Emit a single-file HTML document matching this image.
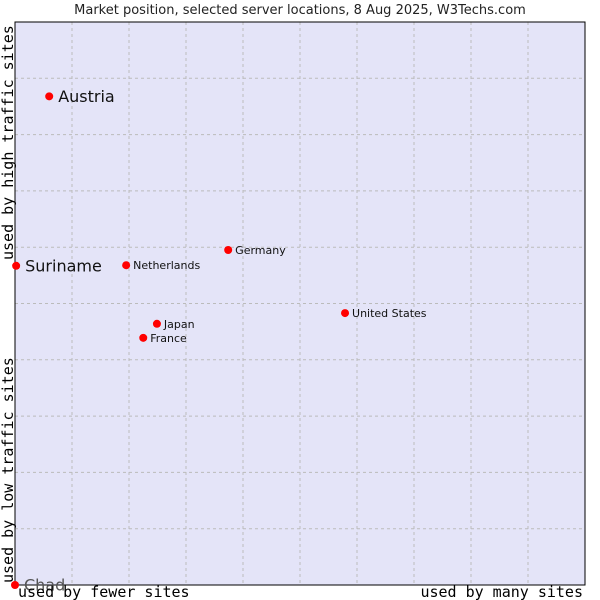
<!DOCTYPE html>
<html><head><meta charset="utf-8"><style>
html,body{margin:0;padding:0;background:#fff;width:600px;height:600px;overflow:hidden}
svg text{font-family:"DejaVu Sans","Liberation Sans",sans-serif}
.mono{font-family:"DejaVu Sans Mono","Liberation Mono",monospace}
</style></head><body>
<svg id="chart" width="600" height="600" xmlns="http://www.w3.org/2000/svg">
<text x="300" y="14" text-anchor="middle" font-size="13" fill="#222">Market position, selected server locations, 8 Aug 2025, W3Techs.com</text>
<rect x="15" y="22" width="570" height="563" fill="#e4e4f8"/>
<g id="grid"></g>
<rect x="15" y="22" width="570" height="563" fill="none" stroke="#000" stroke-width="1"/>
<g id="points"></g>
<text class="mono" transform="translate(13,260) rotate(-90)" font-size="15" fill="#000">used by high traffic sites</text>
<text class="mono" transform="translate(13,583) rotate(-90)" font-size="15" fill="#000">used by low traffic sites</text>
<text class="mono" x="18" y="597" font-size="15" fill="#000">used by fewer sites</text>
<text class="mono" x="583" y="597" text-anchor="end" font-size="15" fill="#000">used by many sites</text>
</svg>
<script>
const names = ["Austria","Suriname","Netherlands","Germany","United States","Japan","France","Chad"];
const xValues = [6.0,0.2,19.5,37.4,57.9,24.9,22.5,0];
const yValues = [86.8,56.7,56.8,59.5,48.3,46.4,43.9,0];
const bigLabel = [true,true,false,false,false,false,false,true];
const L=15,T=22,W=570,H=563;
const sx=v=>L+v/100*W, sy=v=>T+H-v/100*H;
const NS="http://www.w3.org/2000/svg";
const grid=document.getElementById('grid');
for(let i=1;i<10;i++){
  const a=document.createElementNS(NS,'line');
  
  
  a.setAttribute('x1',sx(i*10));a.setAttribute('x2',sx(i*10));a.setAttribute('y1',T);a.setAttribute('y2',T+H);
  a.setAttribute('stroke','#bbb');a.setAttribute('stroke-dasharray','3,3');grid.appendChild(a);
  const b=document.createElementNS(NS,'line');
  
  
  b.setAttribute('y1',sy(i*10));b.setAttribute('y2',sy(i*10));b.setAttribute('x1',L);b.setAttribute('x2',L+W);
  b.setAttribute('stroke','#bbb');b.setAttribute('stroke-dasharray','3,3');grid.appendChild(b);
}
const pts=document.getElementById('points');
names.forEach((n,i)=>{
  const x=sx(xValues[i]),y=sy(yValues[i]);
  const c=document.createElementNS(NS,'circle');
  
  
  c.setAttribute('cx',x);c.setAttribute('cy',y);c.setAttribute('r',4);c.setAttribute('fill','#f00');
  pts.appendChild(c);
  const t=document.createElementNS(NS,'text');
  
  
  const big=bigLabel[i];
  t.setAttribute('x',x+(big?9:7));t.setAttribute('y',y+(big?5.5:4));
  t.setAttribute('font-size',big?16:11);
  t.setAttribute('fill',n==="Chad"?'#555':'#111');
  t.textContent=n;pts.appendChild(t);
});
</script>
</body></html>
